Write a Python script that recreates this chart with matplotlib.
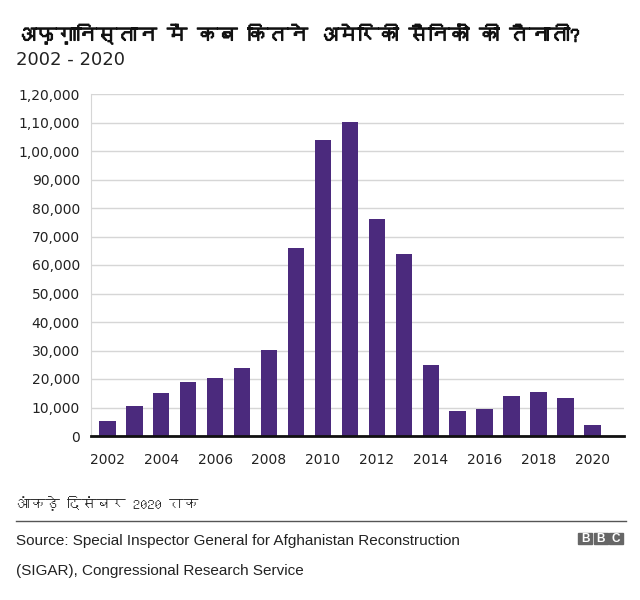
import matplotlib
matplotlib.use("Agg")
import matplotlib.pyplot as plt
import matplotlib.patheffects as pe
from matplotlib import font_manager
from matplotlib.ft2font import FT2Font
from matplotlib.ticker import FuncFormatter
from matplotlib.patches import Rectangle

# data
years = [2002, 2003, 2004, 2005, 2006, 2007, 2008, 2009, 2010, 2011,
         2012, 2013, 2014, 2015, 2016, 2017, 2018, 2019, 2020]
troops = [5200, 10400, 15200, 19100, 20400, 24000, 30300, 66000, 104000, 110300,
          76300, 64000, 24900, 8600, 9300, 14200, 15600, 13200, 4000]
yticks = list(range(0, 120001, 10000))
xticks = list(range(2002, 2021, 2))

title = "अफ़ग़ानिस्तान में कब कितने अमेरिकी सैनिकों की तैनाती?"
subtitle = "2002 - 2020"
note = "आंकड़े दिसंबर 2020 तक"
source1 = "Source: Special Inspector General for Afghanistan Reconstruction"
source2 = "(SIGAR), Congressional Research Service"

bar_color = "#4b2a7d"


def find_devanagari_font():
    # look for any installed font that has Devanagari glyphs
    seen = set()
    for f in font_manager.fontManager.ttflist:
        if f.fname in seen:
            continue
        seen.add(f.fname)
        try:
            cmap = FT2Font(f.fname).get_charmap()
        except Exception:
            continue
        if 0x0915 in cmap and 0x093F in cmap:
            return f.name
    return None


deva = find_devanagari_font()
deva_family = [deva, "DejaVu Sans"] if deva else ["DejaVu Sans"]


def indian_format(v, pos):
    v = int(round(v))
    s = str(v)
    if len(s) <= 3:
        return s
    head, tail = s[:-3], s[-3:]
    parts = []
    while len(head) > 2:
        parts.insert(0, head[-2:])
        head = head[:-2]
    if head:
        parts.insert(0, head)
    return ",".join(parts) + "," + tail


fig = plt.figure(figsize=(6.4, 6), dpi=100)
ax = fig.add_axes([91 / 640, 1 - 436 / 600, (624 - 91) / 640, (436 - 94) / 600])

ax.bar(years, troops, width=0.62, color=bar_color, zorder=3)

ax.set_xlim(2001.4, 2021.16)
ax.set_ylim(0, 120000)
ax.set_yticks(yticks)
ax.set_xticks(xticks)
ax.yaxis.set_major_formatter(FuncFormatter(indian_format))
ax.grid(axis="y", color="#d6d6d6", linewidth=1, zorder=0)
ax.tick_params(axis="both", length=0, labelsize=10, colors="#222222")
ax.tick_params(axis="y", pad=8)
ax.tick_params(axis="x", pad=12)
for lab in ax.get_xticklabels() + ax.get_yticklabels():
    lab.set_family("DejaVu Sans")

for s in ["top", "right"]:
    ax.spines[s].set_visible(False)
ax.spines["left"].set_color("#d6d6d6")
ax.spines["bottom"].set_color("#111111")
ax.spines["bottom"].set_linewidth(2)
ax.spines["bottom"].set_zorder(4)

fig.text(16 / 640, 1 - 34 / 600, title, family=deva_family, fontsize=14.5,
         fontweight="bold", va="center", ha="left", color="#111111",
         path_effects=[pe.withStroke(linewidth=0.8, foreground="#111111")])
fig.text(16 / 640, 1 - 60 / 600, subtitle, family="DejaVu Sans", fontsize=13,
         va="center", ha="left", color="#222222")
fig.text(16 / 640, 1 - 503 / 600, note, family=deva_family, fontsize=10.5,
         va="center", ha="left", color="#222222")
fig.add_artist(plt.Line2D([16 / 640, 626 / 640], [1 - 521 / 600, 1 - 521 / 600],
                          color="#555555", linewidth=1))
fig.text(16 / 640, 1 - 541 / 600, source1, family="Liberation Sans", fontsize=11,
         va="center", ha="left", color="#222222")
fig.text(16 / 640, 1 - 571 / 600, source2, family="Liberation Sans", fontsize=11,
         va="center", ha="left", color="#222222")

# BBC logo blocks
for i, letter in enumerate("BBC"):
    x0 = 578 + i * 15.5
    fig.add_artist(Rectangle((x0 / 640, 1 - 544 / 600), 14 / 640, 11 / 600,
                             transform=fig.transFigure, color="#666666"))
    fig.text((x0 + 7) / 640, 1 - 538.5 / 600, letter, family="Liberation Sans",
             fontsize=8.5, fontweight="bold", color="white", ha="center", va="center")

fig.savefig("out.png", dpi=100)
